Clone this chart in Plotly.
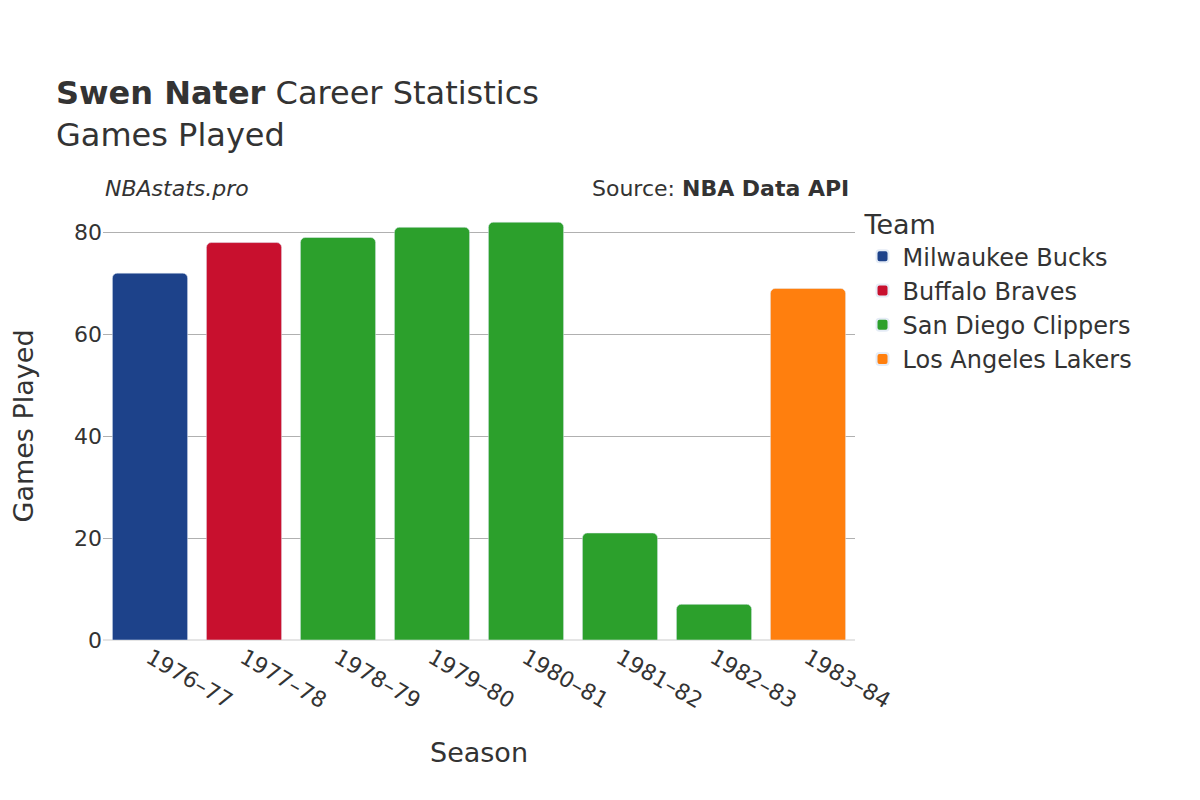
import plotly.graph_objects as go

seasons = ["1976–77", "1977–78", "1978–79", "1979–80", "1980–81", "1981–82", "1982–83", "1983–84"]
games = [72, 78, 79, 81, 82, 21, 7, 69]
teams = ["Milwaukee Bucks", "Buffalo Braves", "San Diego Clippers", "San Diego Clippers",
         "San Diego Clippers", "San Diego Clippers", "San Diego Clippers", "Los Angeles Lakers"]
team_order = ["Milwaukee Bucks", "Buffalo Braves", "San Diego Clippers", "Los Angeles Lakers"]
team_colors = {"Milwaukee Bucks": "#1d428a", "Buffalo Braves": "#c8102e",
               "San Diego Clippers": "#2ca02c", "Los Angeles Lakers": "#ff7f0e"}

fig = go.Figure()
for t in team_order:
    xs = [s for s, tm in zip(seasons, teams) if tm == t]
    ys = [g for g, tm in zip(games, teams) if tm == t]
    fig.add_trace(go.Bar(x=xs, y=ys, name=t, marker_color=team_colors[t]))

font = "DejaVu Sans"
fig.update_layout(
    width=1200, height=800,
    font=dict(family=font, size=20, color="#333"),
    paper_bgcolor="white", plot_bgcolor="white",
    margin=dict(l=84, r=353, t=204, b=168),
    barmode="overlay", bargap=0.2, barcornerradius=5,
    title=dict(text="<b>Swen Nater</b> Career Statistics<br>Games Played",
               x=0.04, xanchor="left", y=0.88, yanchor="top",
               font=dict(size=32, family=font, color="#333")),
    legend=dict(title=dict(text="Team", font=dict(size=27)), x=1.01, y=1.03,
                yanchor="top", font=dict(size=24), itemsizing="constant",
                tracegroupgap=6),
    xaxis=dict(type="category", categoryorder="array", categoryarray=seasons,
               tickangle=30, title=dict(text="Season", font=dict(size=27), standoff=30),
               tickfont=dict(size=22)),
    yaxis=dict(range=[0, 84], dtick=20, gridcolor="#b0b0b0", gridwidth=1,
               zeroline=True, zerolinecolor="#e5e5e5", zerolinewidth=2,
               title=dict(text="Games Played", font=dict(size=27), standoff=35),
               tickfont=dict(size=22)),
    annotations=[
        dict(text="<i>NBAstats.pro</i>", xref="paper", yref="paper", x=0.0,
             y=1.02, xanchor="left", yanchor="bottom", showarrow=False,
             font=dict(size=22, color="#333")),
        dict(text="Source: <b>NBA Data API</b>", xref="paper", yref="paper",
             x=0.995, y=1.02, xanchor="right", yanchor="bottom", showarrow=False,
             font=dict(size=22, color="#333")),
    ],
)
fig.write_html("out.html")
